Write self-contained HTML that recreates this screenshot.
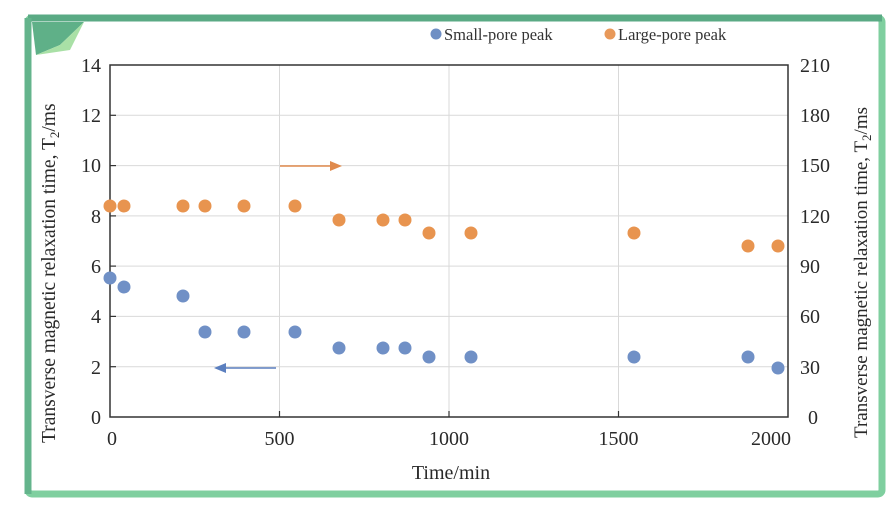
<!DOCTYPE html>
<html><head><meta charset="utf-8"><style>
html,body{margin:0;padding:0;background:#fff;}
svg{display:block;font-family:"Liberation Serif",serif;}
</style></head><body>
<svg width="895" height="511" viewBox="0 0 895 511" xmlns="http://www.w3.org/2000/svg">
<rect x="0" y="0" width="895" height="511" fill="#fff"/>
<rect x="28" y="18" width="854" height="476" rx="4" fill="none" stroke="#7fcf9f" stroke-width="7"/>
<line x1="28" y1="18" x2="882" y2="18" stroke="#5aaa84" stroke-width="7"/>
<line x1="28" y1="18" x2="28" y2="494" stroke="#64b48c" stroke-width="7"/>
<polygon points="32,22 84,22 60,45 36,55" fill="#5fb088"/>
<polygon points="36,55 60,45 84,22 70,50" fill="#a9e0a6"/>
<g stroke="#d9d9d9" stroke-width="1">
<line x1="110" y1="115.3" x2="788" y2="115.3"/>
<line x1="110" y1="165.6" x2="788" y2="165.6"/>
<line x1="110" y1="215.9" x2="788" y2="215.9"/>
<line x1="110" y1="266.1" x2="788" y2="266.1"/>
<line x1="110" y1="316.4" x2="788" y2="316.4"/>
<line x1="110" y1="366.7" x2="788" y2="366.7"/>
<line x1="279.5" y1="65" x2="279.5" y2="417"/>
<line x1="449" y1="65" x2="449" y2="417"/>
<line x1="618.5" y1="65" x2="618.5" y2="417"/>
</g>
<rect x="110" y="65" width="678" height="352" fill="none" stroke="#333" stroke-width="1.5"/>
<g stroke="#333" stroke-width="1.2">
<line x1="110" y1="115.3" x2="116" y2="115.3"/><line x1="110" y1="165.6" x2="116" y2="165.6"/>
<line x1="110" y1="215.9" x2="116" y2="215.9"/><line x1="110" y1="266.1" x2="116" y2="266.1"/>
<line x1="110" y1="316.4" x2="116" y2="316.4"/><line x1="110" y1="366.7" x2="116" y2="366.7"/>
<line x1="279.5" y1="417" x2="279.5" y2="411"/><line x1="449" y1="417" x2="449" y2="411"/><line x1="618.5" y1="417" x2="618.5" y2="411"/>
</g>
<g font-size="20" fill="#2a2a2a" text-anchor="end">
<text x="101" y="72">14</text><text x="101" y="122">12</text><text x="101" y="172">10</text>
<text x="101" y="223">8</text><text x="101" y="273">6</text><text x="101" y="323">4</text>
<text x="101" y="374">2</text><text x="101" y="424">0</text>
</g>
<g font-size="20" fill="#2a2a2a" text-anchor="start">
<text x="800" y="72">210</text><text x="800" y="122">180</text><text x="800" y="172">150</text>
<text x="800" y="223">120</text><text x="800" y="273">90</text><text x="800" y="323">60</text>
<text x="800" y="374">30</text><text x="808" y="424">0</text>
</g>
<g font-size="20" fill="#2a2a2a" text-anchor="middle">
<text x="112" y="445">0</text><text x="279.5" y="445">500</text><text x="449" y="445">1000</text>
<text x="618.5" y="445">1500</text><text x="771" y="445">2000</text>
</g>
<text x="451" y="479" font-size="20" fill="#2a2a2a" text-anchor="middle">Time/min</text>
<text transform="translate(55,443) rotate(-90)" font-size="19.5" fill="#2a2a2a">Transverse magnetic relaxation time, T<tspan font-size="13" dy="4">2</tspan><tspan dy="-4">/ms</tspan></text>
<text transform="translate(867,438) rotate(-90)" font-size="19" fill="#2a2a2a">Transverse magnetic relaxation time, T<tspan font-size="13" dy="4">2</tspan><tspan dy="-4">/ms</tspan></text>
<circle cx="436" cy="34" r="5.5" fill="#6f8fc4"/>
<text x="444" y="40" font-size="16.5" fill="#333">Small-pore peak</text>
<circle cx="610" cy="34" r="5.5" fill="#e8995a"/>
<text x="618" y="40" font-size="16.5" fill="#333">Large-pore peak</text>
<line x1="280" y1="166" x2="334" y2="166" stroke="#e08a4c" stroke-width="1.5"/>
<polygon points="342,166 330,161 330,171" fill="#e08a4c"/>
<line x1="222" y1="368" x2="276" y2="368" stroke="#5b7fbf" stroke-width="1.5"/>
<polygon points="214,368 226,363 226,373" fill="#5b7fbf"/>
<g fill="#7090c6">
<circle cx="110" cy="278" r="6.5"/><circle cx="124" cy="287" r="6.5"/><circle cx="183" cy="296" r="6.5"/>
<circle cx="205" cy="332" r="6.5"/><circle cx="244" cy="332" r="6.5"/><circle cx="295" cy="332" r="6.5"/>
<circle cx="339" cy="348" r="6.5"/><circle cx="383" cy="348" r="6.5"/><circle cx="405" cy="348" r="6.5"/>
<circle cx="429" cy="357" r="6.5"/><circle cx="471" cy="357" r="6.5"/><circle cx="634" cy="357" r="6.5"/>
<circle cx="748" cy="357" r="6.5"/><circle cx="778" cy="368" r="6.5"/>
</g>
<g fill="#e8944f">
<circle cx="110" cy="206" r="6.5"/><circle cx="124" cy="206" r="6.5"/><circle cx="183" cy="206" r="6.5"/>
<circle cx="205" cy="206" r="6.5"/><circle cx="244" cy="206" r="6.5"/><circle cx="295" cy="206" r="6.5"/>
<circle cx="339" cy="220" r="6.5"/><circle cx="383" cy="220" r="6.5"/><circle cx="405" cy="220" r="6.5"/>
<circle cx="429" cy="233" r="6.5"/><circle cx="471" cy="233" r="6.5"/><circle cx="634" cy="233" r="6.5"/>
<circle cx="748" cy="246" r="6.5"/><circle cx="778" cy="246" r="6.5"/>
</g>
</svg>
</body></html>
